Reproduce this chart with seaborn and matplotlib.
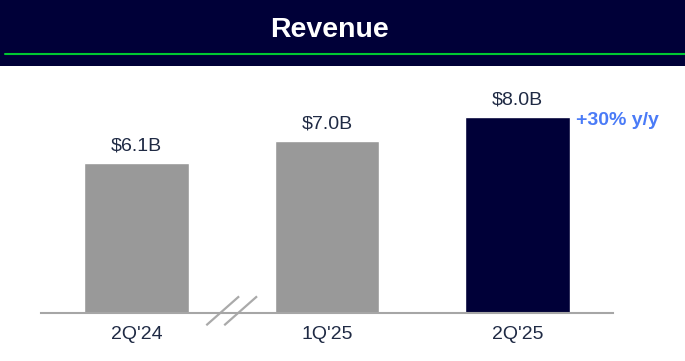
import matplotlib
matplotlib.use("Agg")
import matplotlib.pyplot as plt
from matplotlib.lines import Line2D
from matplotlib.patches import Rectangle
import pandas as pd
import seaborn as sns

quarters = ["2Q'24", "1Q'25", "2Q'25"]
revenue = [6.1, 7.0, 8.0]
value_labels = ["$6.1B", "$7.0B", "$8.0B"]
bar_colors = ["#999999", "#999999", "#000038"]
growth_label = "+30% y/y"

NAVY = "#000038"
TEXT = "#1F2A44"

sns.set_style("white")
plt.rcParams["font.family"] = ["Liberation Sans", "DejaVu Sans"]

df = pd.DataFrame({"quarter": quarters, "revenue": revenue})

fig = plt.figure(figsize=(6.85, 3.61), dpi=100)
ax = fig.add_axes([41 / 685, 48 / 361, 572 / 685, 244 / 361])

sns.barplot(data=df, x="quarter", y="revenue", hue="quarter",
            palette=dict(zip(quarters, bar_colors)), width=0.55,
            legend=False, saturation=1, ax=ax)

ax.set_xlim(-0.5, 2.5)
ax.set_ylim(0, 9.95)
ax.set_xlabel("")
ax.set_ylabel("")
ax.set_yticks([])
for side in ["top", "right", "left"]:
    ax.spines[side].set_visible(False)
ax.spines["bottom"].set_color("#A6A6A6")
ax.spines["bottom"].set_linewidth(1.5)
ax.tick_params(axis="x", length=0, pad=9.5, labelsize=14, labelcolor=TEXT)

for i, (val, lab) in enumerate(zip(revenue, value_labels)):
    ax.text(i, val + 0.35, lab, ha="center", va="bottom", fontsize=14, color=TEXT)

ax.text(2.305, revenue[-1] - 0.15, growth_label, ha="left", va="center",
        fontsize=14, fontweight="bold", color="#4A7BF7", clip_on=False)

# axis break marks between the first two bars
for dx in (-0.047, 0.047):
    ax.plot([0.5 + dx - 0.086, 0.5 + dx + 0.086], [-0.5, 0.68],
            color="#AAAAAA", lw=1.6, clip_on=False, solid_capstyle="butt")

# header band
fig.add_artist(Rectangle((0, 1 - 66 / 361), 1, 66 / 361, transform=fig.transFigure,
                         facecolor=NAVY, edgecolor="none", zorder=0))
fig.add_artist(Line2D([5 / 685, 1], [1 - 54 / 361] * 2, transform=fig.transFigure,
                      color="#00C832", lw=1.5))
fig.text(330 / 685, 1 - 30 / 361, "Revenue", ha="center", va="center",
         fontsize=20.5, fontweight="bold", color="white")

fig.savefig("out.png", dpi=100)
